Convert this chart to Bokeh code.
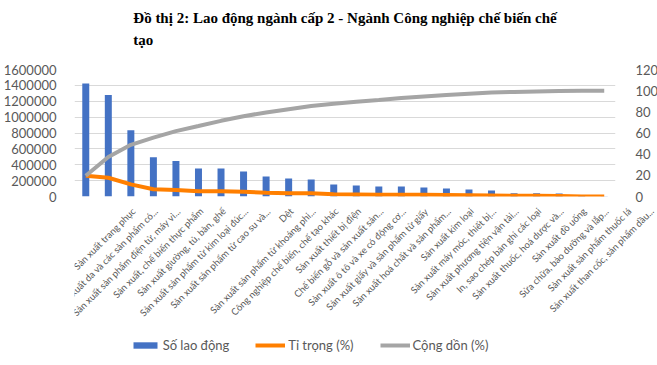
from math import pi
from bokeh.plotting import figure
from bokeh.layouts import column
from bokeh.models import (Range1d, LinearAxis, Legend, LegendItem, FactorRange,
                          ColumnDataSource, FixedTicker, NumeralTickFormatter)
from bokeh.core.properties import value
from bokeh.embed import file_html
from bokeh.resources import INLINE

categories = [
    "Sản xuất trang phục",
    "Sản xuất da và các sản phẩm có...",
    "Sản xuất sản phẩm điện tử, máy vi...",
    "Sản xuất, chế biến thực phẩm",
    "Sản xuất giường, tủ, bàn, ghế",
    "Sản xuất sản phẩm từ kim loại đúc...",
    "Sản xuất sản phẩm từ cao su và...",
    "Dệt",
    "Sản xuất sản phẩm từ khoáng phi...",
    "Công nghiệp chế biến, chế tạo khác",
    "Sản xuất thiết bị điện",
    "Chế biến gỗ và sản xuất sản...",
    "Sản xuất ô tô và xe có động cơ...",
    "Sản xuất giấy và sản phẩm từ giấy",
    "Sản xuất hoá chất và sản phẩm...",
    "Sản xuất kim loại",
    "Sản xuất máy móc, thiết bị...",
    "Sản xuất phương tiện vận tải...",
    "In, sao chép bản ghi các loại",
    "Sản xuất thuốc, hoá dược và...",
    "Sản xuất đồ uống",
    "Sửa chữa, bảo dưỡng và lắp...",
    "Sản xuất sản phẩm thuốc lá",
    "Sản xuất than cốc, sản phẩm dầu...",
]
so_lao_dong = [1423000, 1280000, 834000, 493000, 446000, 354000, 354000, 316000,
               253000, 227000, 215000, 152000, 139000, 126000, 126000, 114000,
               101000, 88000, 76000, 42000, 40000, 38000, 8000, 3000]
ti_trong = [19.6, 17.7, 11.5, 6.8, 6.2, 4.9, 4.9, 4.4, 3.5, 3.1, 3.0, 2.1,
            1.9, 1.7, 1.7, 1.6, 1.4, 1.2, 1.0, 0.6, 0.6, 0.5, 0.1, 0.0]
cong_don = [19.6, 37.3, 48.8, 55.6, 61.8, 66.6, 71.5, 75.9, 79.4, 82.5, 85.5, 87.6,
            89.5, 91.2, 93.0, 94.5, 95.9, 97.1, 98.2, 98.8, 99.3, 99.8, 99.9, 100.0]
left_ticks = [0, 200000, 400000, 600000, 800000, 1000000, 1200000, 1400000, 1600000]
right_ticks = [0, 20, 40, 60, 80, 100, 120]

title_text = "Đồ thị 2: Lao động ngành cấp 2 - Ngành Công nghiệp chế biến chế\ntạo\n "

FONT = "Lato"
GREY_TXT = "#595959"

# layout constants (pixels)
LEFT, RIGHT, TOP = 71, 45, 69
FRAME_W, FRAME_H = 541, 127
MAIN_BOTTOM = 10
LABEL_H = 159
PAD_UNITS = 2.0
UNIT = FRAME_W / len(categories)
PAD_PX = int(round(PAD_UNITS * UNIT))

src = ColumnDataSource(dict(cat=categories, val=so_lao_dong, share=ti_trong, cum=cong_don))

p = figure(x_range=FactorRange(*categories), y_range=Range1d(0, 1600000),
           frame_width=FRAME_W, frame_height=FRAME_H,
           output_backend="svg", toolbar_location=None, x_axis_location=None,
           min_border_left=LEFT, min_border_right=RIGHT, min_border_top=TOP,
           min_border_bottom=MAIN_BOTTOM, outline_line_color=None)
p.extra_y_ranges = {"pct": Range1d(0, 120)}

p.title.text = title_text
p.title.align = "center"
p.title.vertical_align = "bottom"
p.title.standoff = 0
p.title.text_font = "Liberation Serif"
p.title.text_font_style = "bold"
p.title.text_font_size = "15px"
p.title.text_line_height = 1.35
p.title.text_color = "black"

p.vbar(x="cat", top="val", width=0.31, source=src,
       fill_color="#4472C4", line_color=None)
p.line(x="cat", y="share", source=src, y_range_name="pct",
       line_color="#FF7F00", line_width=4)
p.line(x="cat", y="cum", source=src, y_range_name="pct",
       line_color="#A5A5A5", line_width=4)

ya = p.yaxis[0]
ya.ticker = FixedTicker(ticks=left_ticks)
ya.formatter = NumeralTickFormatter(format="0")
ya.axis_line_color = None
ya.major_tick_line_color = None
ya.minor_tick_line_color = None
ya.major_label_text_font = FONT
ya.major_label_text_font_size = "13px"
ya.major_label_text_color = GREY_TXT
ya.major_label_standoff = 12

ra = LinearAxis(y_range_name="pct", ticker=FixedTicker(ticks=right_ticks))
ra.axis_line_color = None
ra.major_tick_line_color = None
ra.minor_tick_line_color = None
ra.major_label_text_font = FONT
ra.major_label_text_font_size = "13px"
ra.major_label_text_color = GREY_TXT
ra.major_label_standoff = 14
p.add_layout(ra, "right")

p.xgrid.grid_line_color = None
p.ygrid.grid_line_color = "#D9D9D9"
p.ygrid.ticker = FixedTicker(ticks=left_ticks)

# second strip: rotated category labels and the legend
p2 = figure(x_range=FactorRange(*categories, range_padding=PAD_UNITS,
                                range_padding_units="absolute"),
            y_range=Range1d(0, LABEL_H),
            frame_width=FRAME_W + 2 * PAD_PX, frame_height=LABEL_H,
            output_backend="svg", toolbar_location=None,
            x_axis_location=None, y_axis_location=None,
            min_border_left=LEFT - PAD_PX, min_border_right=0, min_border_top=0,
            min_border_bottom=0, outline_line_color=None)
p2.grid.visible = False

lab_src = ColumnDataSource(dict(x=categories, y=[LABEL_H - 3] * len(categories), t=categories))
p2.text(x="x", y="y", text="t", source=lab_src, angle=pi / 4,
        text_align="right", text_baseline="middle", x_offset=3,
        text_font=value(FONT), text_font_size="9.5px", text_color=GREY_TXT)

# legend swatches (drawn off-view, only used by the legend)
d_bar = p2.vbar(x=[categories[0]], bottom=[-30], top=[-20], width=0.3,
                fill_color="#4472C4", line_color=None)
d_l1 = p2.line(x=categories[:2], y=[-50, -50], line_color="#FF7F00", line_width=4)
d_l2 = p2.line(x=categories[:2], y=[-60, -60], line_color="#A5A5A5", line_width=4)

legend = Legend(items=[
    LegendItem(label="Số lao động", renderers=[d_bar]),
    LegendItem(label="Tỉ trọng (%)", renderers=[d_l1]),
    LegendItem(label="Cộng dồn (%)", renderers=[d_l2]),
], orientation="horizontal", location=(147 - (LEFT - PAD_PX), 12))
legend.border_line_color = None
legend.background_fill_alpha = 0
legend.label_text_font = FONT
legend.label_text_font_size = "13px"
legend.label_text_color = GREY_TXT
legend.glyph_width = 30
legend.glyph_height = 8
legend.label_height = 16
legend.label_standoff = 3
legend.spacing = 26
legend.padding = 0
legend.margin = 0
p2.add_layout(legend, "center")

layout = column(p, p2, spacing=0)
open("out.html", "w").write(file_html(layout, INLINE))
